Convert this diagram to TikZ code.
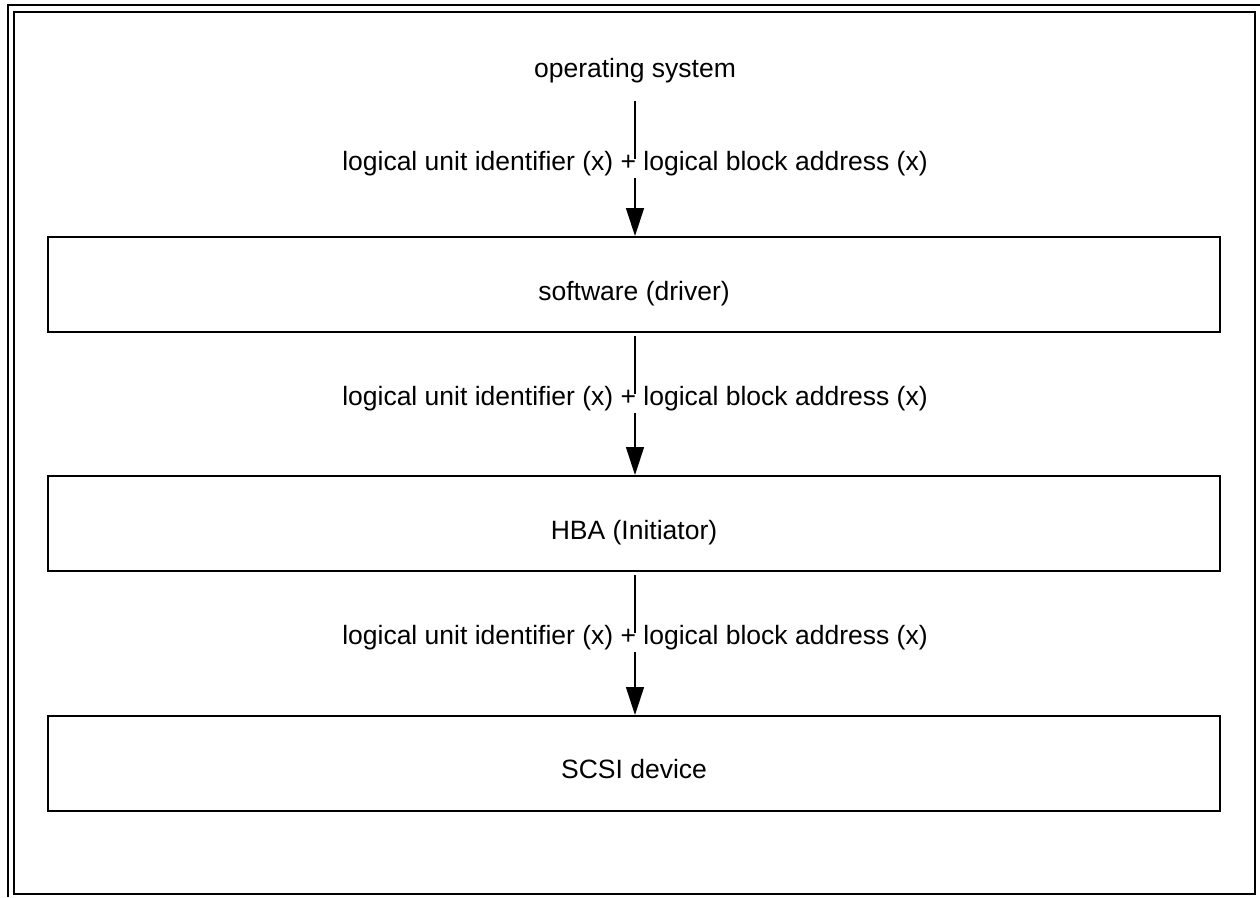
\documentclass[tikz,border=0pt]{standalone}
\usepackage{fontspec}
\setmainfont{Liberation Sans}
\usetikzlibrary{arrows.meta}
\begin{document}
\begin{tikzpicture}[x=1pt,y=-1pt,
  every node/.style={font=\fontsize{26.5}{30}\selectfont},
  layerbox/.style={draw,line width=2pt,minimum width=1172pt,minimum height=95pt,inner sep=0pt},
  boxtext/.style={anchor=base,inner sep=0pt},
  flowlabel/.style={anchor=base,fill=white,inner sep=0pt,text height=11pt,text depth=8pt},
  flow/.style={line width=1.3pt,-{Triangle[length=28pt,width=18pt]}}]
\useasboundingbox (0,0) rectangle (1260,897);
% frame
\draw[line width=2pt] (7,5) -- (1260,5);
\draw[line width=2pt] (8,5) -- (8,897);
\draw[line width=2pt] (14,12) rectangle (1255,894);
% nodes
\node[boxtext] (os) at (635,77) {operating system};
\coordinate (osb) at (635,101);
\node[layerbox] (sw) at (634,284.5) {};
\node[boxtext] (swt) at (634,300) {software (driver)};
\node[layerbox] (hba) at (634,523.5) {};
\node[boxtext] (hbat) at (634,539) {HBA (Initiator)};
\node[layerbox] (dev) at (634,763.5) {};
\node[boxtext] (devt) at (634,778) {SCSI device};
% connectors
\draw[flow] (osb) -- (sw.north -| osb);
\draw[flow] (sw.south -| osb) ++(0,3) -- (hba.north -| osb);
\draw[flow] (hba.south -| osb) ++(0,3) -- (dev.north -| osb);
% labels
\node[flowlabel] (l1) at (635,170) {logical unit identifier (x) + logical block address (x)};
\node[flowlabel] (l2) at (635,405) {logical unit identifier (x) + logical block address (x)};
\node[flowlabel] (l3) at (635,644) {logical unit identifier (x) + logical block address (x)};
\end{tikzpicture}
\end{document}
